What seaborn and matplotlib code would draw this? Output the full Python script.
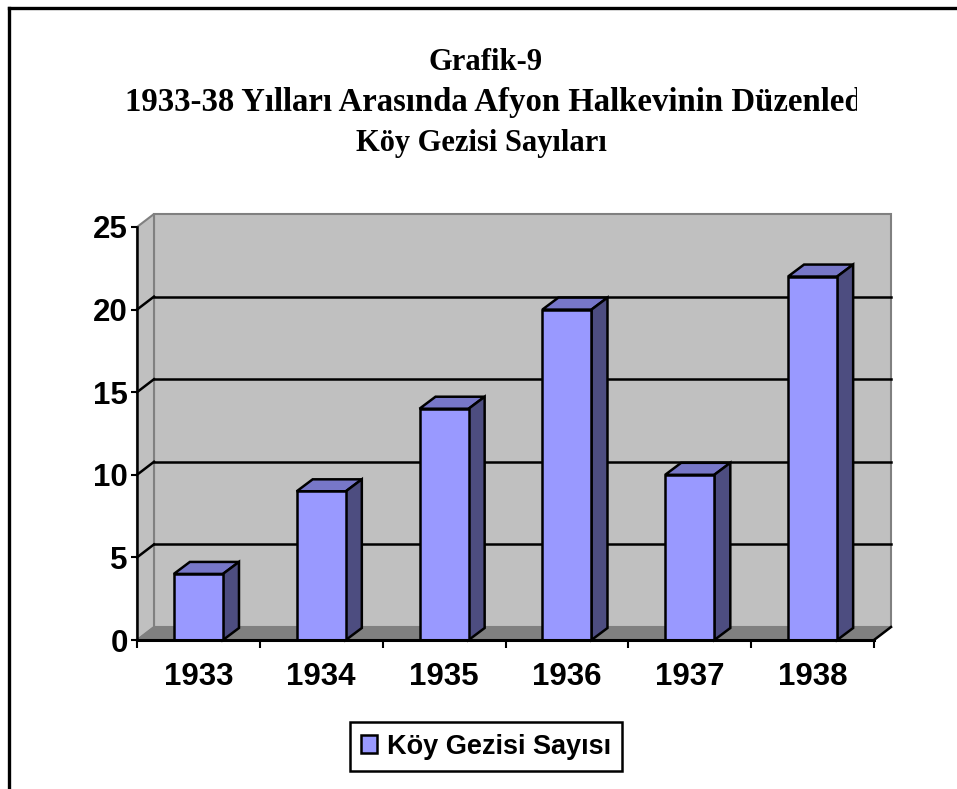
import matplotlib
matplotlib.use("Agg")
import matplotlib.pyplot as plt
import seaborn as sns
from matplotlib.patches import Polygon, Patch
from matplotlib.lines import Line2D
from matplotlib.transforms import Bbox, TransformedBbox

# Veriler
years = ["1933", "1934", "1935", "1936", "1937", "1938"]
trips = [4, 9, 14, 20, 10, 22]
y_ticks = [0, 5, 10, 15, 20, 25]

title_1 = "Grafik-9"
title_2 = "1933-38 Yılları Arasında Afyon Halkevinin Düzenlediği"
title_3 = "Köy Gezisi Sayıları"
legend_label = "Köy Gezisi Sayısı"

front_color = "#9999FF"
top_color = "#7777C8"
side_color = "#4D4D80"
wall_color = "#C0C0C0"
floor_color = "#808080"

W, H = 957, 789
fig = plt.figure(figsize=(W / 100, H / 100), dpi=100)
fig.patch.set_facecolor("white")

# Osie w pikselach: przód wykresu od x=137 do 874, od y=640 (0) do 227 (25)
ax = fig.add_axes([137 / W, (H - 640) / H, 737 / W, 413 / H])
ax.patch.set_visible(False)
ax.set_xlim(-0.5, 5.5)
ax.set_ylim(0, 25)

px_x = 737 / 6
px_y = 413 / 25
WX, WY = 17 / px_x, 13 / px_y     # głębokość ścian
BX, BY = 16 / px_x, 12 / px_y     # głębokość słupków

# Tylna ściana, boczna ściana i podłoga
ax.add_patch(Polygon([(-0.5 + WX, WY), (5.5 + WX, WY), (5.5 + WX, 25 + WY), (-0.5 + WX, 25 + WY)],
                     closed=True, facecolor=wall_color, edgecolor=floor_color, lw=1.5, zorder=0.2, clip_on=False))
ax.add_patch(Polygon([(-0.5, 0), (-0.5, 25), (-0.5 + WX, 25 + WY), (-0.5 + WX, WY)],
                     closed=True, facecolor=wall_color, edgecolor=floor_color, lw=1.5, zorder=0.3, clip_on=False))
ax.add_patch(Polygon([(-0.5, 0), (5.5, 0), (5.5 + WX, WY), (-0.5 + WX, WY)],
                     closed=True, facecolor=floor_color, edgecolor=floor_color, lw=1, zorder=0.4, clip_on=False))
ax.plot([5.5, 5.5 + WX], [0, WY], color="black", lw=1.8, zorder=0.5, clip_on=False)

# Linie siatki na tylnej ścianie
for v in y_ticks[1:-1]:
    ax.plot([-0.5 + WX, 5.5 + WX], [v + WY, v + WY], color="black", lw=1.8, zorder=0.6, clip_on=False)
    ax.plot([-0.5, -0.5 + WX], [v, v + WY], color="black", lw=1.8, zorder=0.6, clip_on=False)

# Słupki
sns.barplot(x=years, y=trips, color=front_color, saturation=1, width=0.4,
            edgecolor="black", linewidth=1.8, ax=ax, zorder=3)

for bar in ax.containers[0]:
    x0 = bar.get_x()
    x1 = x0 + bar.get_width()
    h = bar.get_height()
    ax.add_patch(Polygon([(x0, h), (x1, h), (x1 + BX, h + BY), (x0 + BX, h + BY)], closed=True,
                         facecolor=top_color, edgecolor="black", lw=1.8, zorder=2.9, clip_on=False))
    ax.add_patch(Polygon([(x1, 0), (x1, h), (x1 + BX, h + BY), (x1 + BX, BY)], closed=True,
                         facecolor=side_color, edgecolor="black", lw=1.8, zorder=2.9, clip_on=False))

ax.set_xlim(-0.5, 5.5)
ax.set_ylim(0, 25)
ax.set_xlabel("")
ax.set_ylabel("")

for s in ["top", "right"]:
    ax.spines[s].set_visible(False)
ax.spines["left"].set_color("black")
ax.spines["left"].set_linewidth(1.8)
ax.spines["bottom"].set_color("black")
ax.spines["bottom"].set_linewidth(2.2)
ax.spines["left"].set_zorder(4)
ax.spines["bottom"].set_zorder(4)

tick_font = dict(family="Liberation Sans", weight="bold", size=22.5)
ax.set_yticks(y_ticks)
ax.set_yticklabels([str(v) for v in y_ticks], fontdict=tick_font)
ax.tick_params(axis="y", direction="out", length=4.5, width=1.5, pad=2)
ax.set_xticks(range(len(years)))
ax.set_xticklabels(years, fontdict=tick_font)
ax.set_xticks([i - 0.5 for i in range(len(years) + 1)], minor=True)
ax.tick_params(axis="x", which="major", length=0, pad=16)
ax.tick_params(axis="x", which="minor", direction="out", length=6, width=1.5)

# Tytuł
title_font = dict(family="Liberation Serif", weight="bold", size=22)
fig.text(486 / W, 1 - 63 / H, title_1, ha="center", va="center", fontdict=title_font)
t2 = fig.text(125 / W, 1 - 103 / H, title_2, ha="left", va="center",
              family="Liberation Serif", weight="bold", size=23.6)
t2.set_clip_box(TransformedBbox(Bbox([[0, 0], [857 / W, 1]]), fig.transFigure))
t2.set_clip_on(True)
fig.text(481 / W, 1 - 143 / H, title_3, ha="center", va="center", fontdict=title_font)

# Legenda
handle = Patch(facecolor=front_color, edgecolor="black", linewidth=1.8, label=legend_label)
leg = fig.legend(handles=[handle], loc="center", bbox_to_anchor=(486 / W, 1 - 746.5 / H),
                 prop=dict(family="Liberation Sans", weight="bold", size=19.5),
                 fancybox=False, shadow=False, framealpha=1, edgecolor="black",
                 handlelength=0.6, handleheight=0.6, handletextpad=0.35, borderpad=0.42,
                 borderaxespad=0)
leg.get_frame().set_linewidth(1.8)

# Ramka zewnętrzna
fig.add_artist(Line2D([9 / W, 1], [1 - 7.5 / H, 1 - 7.5 / H], color="black", lw=2.4, transform=fig.transFigure))
fig.add_artist(Line2D([9 / W, 9 / W], [0, 1 - 7.5 / H], color="black", lw=2.4, transform=fig.transFigure))

fig.savefig("out.png", dpi=100)
